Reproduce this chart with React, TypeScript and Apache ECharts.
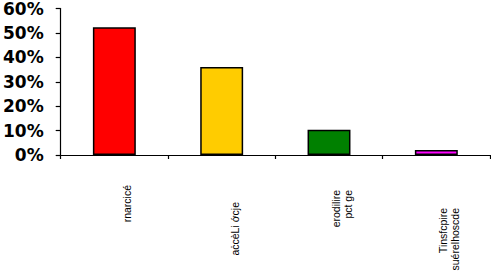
import React, { useEffect, useRef } from "react";
import * as echarts from "echarts";

const categories = ["rnarcicé", "aċcèLi ớcje", "erodilire\npct ge", "Tinsfcpire\nsuérelhoscde"];
const values = [52.3, 36, 10.3, 2];
const colors = ["#FF0000", "#FFCC00", "#008000", "#FF00FF"];
const yTicks = [0, 10, 20, 30, 40, 50, 60];
const labelShift = [22, 39, 27, 45];

export default function App() {
  const ref = useRef<HTMLDivElement>(null);
  useEffect(() => {
    if (!ref.current) return;
    const chart = echarts.init(ref.current, null, { renderer: "svg" });
    const rich: any = {};
    labelShift.forEach((s, i) => {
      rich["l" + i] = {
        fontFamily: "Liberation Sans",
        fontSize: 10.5,
        color: "#000",
        lineHeight: 12,
        padding: [0, s, 0, 0],
      };
    });
    chart.setOption({
      animation: false,
      backgroundColor: "#fff",
      grid: { left: 60, right: 1, top: 7, bottom: 119 },
      xAxis: {
        type: "category",
        data: categories,
        axisLine: { lineStyle: { color: "#000", width: 1.2 } },
        axisTick: { show: true, length: 4, lineStyle: { color: "#000", width: 1.2 } },
        axisLabel: {
          interval: 0,
          rotate: 90,
          margin: 8,
          padding: [26, 0, 0, 0],
          formatter: (v: string, i: number) =>
            v
              .split("\n")
              .map((line) => `{l${i}|${line}}`)
              .join("\n"),
          rich,
        },
      },
      yAxis: {
        type: "value",
        min: yTicks[0],
        max: yTicks[yTicks.length - 1],
        interval: 10,
        axisLine: { show: true, lineStyle: { color: "#000", width: 1.2 } },
        axisTick: { show: true, length: 5, lineStyle: { color: "#000", width: 1.2 } },
        splitLine: { show: false },
        axisLabel: {
          margin: 17,
          formatter: (v: number) => v + "%",
          fontFamily: "DejaVu Sans",
          fontWeight: "bold",
          fontSize: 17,
          color: "#000",
        },
      },
      series: [
        {
          type: "bar",
          barWidth: "40%",
          data: values.map((v, i) => ({
            value: v,
            itemStyle: { color: colors[i], borderColor: "#000", borderWidth: 1.5 },
          })),
        },
      ],
    });
    return () => chart.dispose();
  }, []);
  return (
    <div
      ref={ref}
      style={{ position: "fixed", left: 0, top: 0, width: 491, height: 274 }}
    />
  );
}
